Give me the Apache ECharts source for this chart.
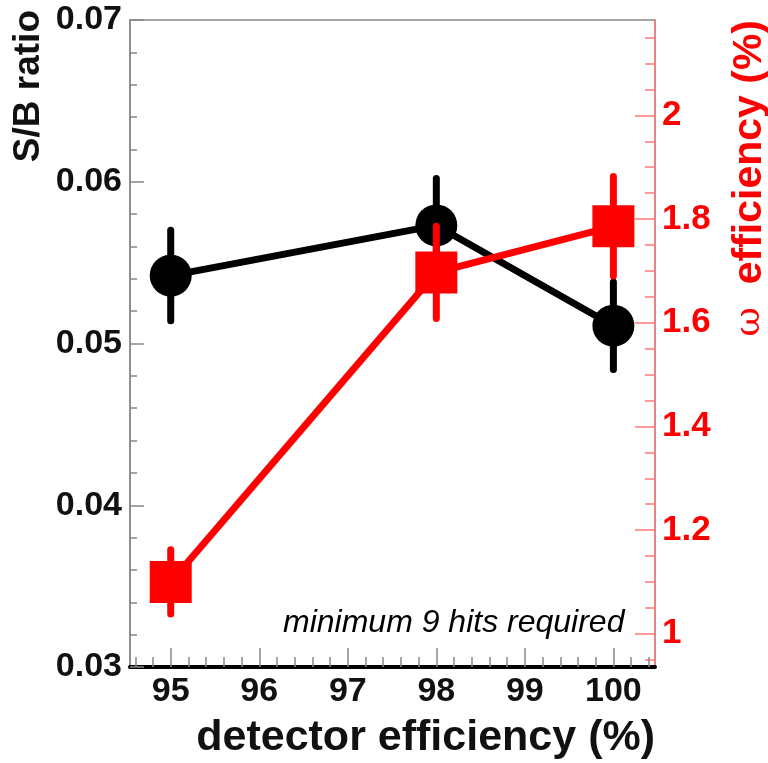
<!DOCTYPE html>
<html><head><meta charset="utf-8">
<script src="https://cdn.jsdelivr.net/npm/echarts@6/dist/echarts.min.js"></script>
<style>html,body{margin:0;padding:0;background:#fff;overflow:hidden}#c{width:768px;height:763px}</style>
</head><body><div id="c"></div>
<script>
var detEff = [95, 98, 100];
var sbRatio = [0.0542, 0.0573, 0.0511];
var sbErr = [0.0028, 0.0029, 0.0027];
var omegaEff = [1.100, 1.697, 1.786];
var omegaErr = [0.062, 0.089, 0.096];
var xTickLabels = [95, 96, 97, 98, 99, 100];
var yRightTickLabels = [1, 1.2, 1.4, 1.6, 1.8, 2];

var X_MIN = 94.54, X_MAX = 100.47;
var YR_MIN = 0.936, YR_MAX = 2.184;

var xMinor = [];
for (var v = 94.6; v < 100.47; v += 0.2) { var r = Math.round(v * 10) / 10; if (Math.abs(r - Math.round(r)) > 1e-6) xMinor.push(r); }
var yRMinor = [];
for (var w = 0.95; w < 2.184; w += 0.05) { var q = Math.round(w * 100) / 100; if (Math.abs(q * 5 - Math.round(q * 5)) > 1e-6) yRMinor.push(q); }

function pairs(xs, ys) { return xs.map(function (x, i) { return [x, ys[i]]; }); }
function errPairs(xs, ys, es) { return xs.map(function (x, i) { return [x, ys[i], es[i]]; }); }

function errRender(color) {
  return function (params, api) {
    var x = api.value(0), y = api.value(1), e = api.value(2);
    var p1 = api.coord([x, y - e]), p2 = api.coord([x, y + e]);
    return { type: 'line', shape: { x1: p1[0], y1: p1[1], x2: p2[0], y2: p2[1] },
      style: { stroke: color, lineWidth: 7, lineCap: 'round' } };
  };
}

var FONT = 'Liberation Sans, Arial, sans-serif';
var chart = echarts.init(document.getElementById('c'));
chart.setOption({
  animation: false,
  backgroundColor: '#fff',
  grid: { left: 130, right: 113, top: 20, bottom: 96, show: true, borderColor: '#888', borderWidth: 1.5 },
  xAxis: [
    { type: 'value', min: X_MIN, max: X_MAX, position: 'bottom',
      axisLine: { show: true, onZero: false, lineStyle: { color: '#000', width: 4 } },
      axisTick: { show: true, inside: true, length: 19, customValues: xTickLabels, lineStyle: { color: '#888', width: 1.5 } },
      axisLabel: { customValues: xTickLabels, color: '#111', fontSize: 34, fontWeight: 'bold', fontFamily: FONT, margin: 8 },
      splitLine: { show: false } },
    { type: 'value', min: X_MIN, max: X_MAX, position: 'bottom',
      axisLine: { show: false },
      axisTick: { show: true, inside: true, length: 10, customValues: xMinor, lineStyle: { color: '#888', width: 1.5 } },
      axisLabel: { show: false }, splitLine: { show: false } }
  ],
  yAxis: [
    { type: 'value', min: 0.03, max: 0.07, interval: 0.01, position: 'left',
      axisLine: { show: true, onZero: false, lineStyle: { color: '#888', width: 1.5 } },
      axisTick: { show: true, inside: true, length: 14, lineStyle: { color: '#888', width: 1.5 } },
      minorTick: { show: true, splitNumber: 5, length: 7, lineStyle: { color: '#888', width: 1.5 } },
      axisLabel: { color: '#111', fontSize: 34, fontWeight: 'bold', fontFamily: FONT, margin: 8,
        formatter: function (v) { return v.toFixed(2); } },
      splitLine: { show: false } },
    { type: 'value', min: YR_MIN, max: YR_MAX, position: 'right',
      axisLine: { show: true, onZero: false, lineStyle: { color: '#ff7a7a', width: 1.5 } },
      axisTick: { show: true, inside: true, length: 20, customValues: yRightTickLabels, lineStyle: { color: '#ff7a7a', width: 1.5 } },
      axisLabel: { customValues: yRightTickLabels, color: '#ff0000', fontSize: 35, fontWeight: 'bold', fontFamily: FONT, margin: 7 },
      splitLine: { show: false } },
    { type: 'value', min: YR_MIN, max: YR_MAX, position: 'right',
      axisLine: { show: false },
      axisTick: { show: true, inside: true, length: 10, customValues: yRMinor, lineStyle: { color: '#ff7a7a', width: 1.5 } },
      axisLabel: { show: false }, splitLine: { show: false } }
  ],
  series: [
    { type: 'custom', xAxisIndex: 0, yAxisIndex: 0, z: 2, renderItem: errRender('#000'),
      data: errPairs(detEff, sbRatio, sbErr) },
    { type: 'line', xAxisIndex: 0, yAxisIndex: 0, z: 3, data: pairs(detEff, sbRatio),
      symbol: 'circle', symbolSize: 42, lineStyle: { color: '#000', width: 7 }, itemStyle: { color: '#000' } },
    { type: 'custom', xAxisIndex: 0, yAxisIndex: 1, z: 4, renderItem: errRender('#ff0000'),
      data: errPairs(detEff, omegaEff, omegaErr) },
    { type: 'line', xAxisIndex: 0, yAxisIndex: 1, z: 5, data: pairs(detEff, omegaEff),
      symbol: 'rect', symbolSize: 42, lineStyle: { color: '#ff0000', width: 7 }, itemStyle: { color: '#ff0000' } }
  ],
  graphic: [
    { type: 'text', left: 283, top: 607, z: 10,
      style: { text: 'minimum 9 hits required', fill: '#000', font: 'italic 32px ' + FONT } },
    { type: 'text', x: 655, y: 738, z: 10,
      style: { text: 'detector efficiency (%)', fill: '#111', font: 'bold 43px ' + FONT, align: 'right', verticalAlign: 'middle' } },
    { type: 'text', x: 29, y: 10, rotation: Math.PI / 2, z: 10,
      style: { text: 'S/B ratio', fill: '#111', font: 'bold 37px ' + FONT, align: 'right', verticalAlign: 'middle' } },
    { type: 'text', x: 750, y: 20, rotation: Math.PI / 2, z: 10,
      style: { text: '{w|ω}  efficiency (%)', fill: '#ff0000', font: 'bold 41px ' + FONT, align: 'right', verticalAlign: 'middle',
        rich: { w: { fontSize: 36, fontWeight: 'normal', fontFamily: 'DejaVu Serif, serif', fill: '#ff0000' } } } }
  ]
});
</script></body></html>
